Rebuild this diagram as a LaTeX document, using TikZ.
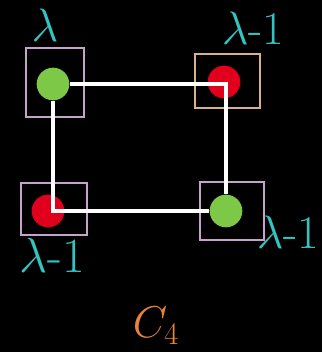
\documentclass[tikz,border=0pt]{standalone}
\usepackage{amsmath}
\usepackage{fix-cm}
\usepackage{xcolor}
\usetikzlibrary{positioning,backgrounds}

\definecolor{dotgreen}{HTML}{7DC846}
\definecolor{dotred}{HTML}{E0001E}
\definecolor{framelilac}{HTML}{C6A2CC}
\definecolor{frametan}{HTML}{D8B08A}
\definecolor{labcyan}{HTML}{33C4C2}
\definecolor{namorange}{HTML}{E8843A}

\begin{document}
\begin{tikzpicture}[
  x=0.03cm, y=-0.03cm,
  vbox/.style={draw=framelilac, line width=1.3pt, minimum width=#1},
  vtx/.style={circle, inner sep=0pt, minimum size=0.98cm},
  good/.style={vtx, fill=dotgreen},
  bad/.style={vtx, fill=dotred},
  link/.style={draw=white, line width=3.2pt},
  lab/.style={text=labcyan, font=\fontsize{40}{44}\selectfont, inner sep=0pt},
  gname/.style={text=namorange, font=\fontsize{38}{42}\selectfont, inner sep=0pt}
]
\useasboundingbox (0,0) rectangle (322,352);

% green vertices on top
\node[good] (gA) at (53,84) {};
\node[good] (gD) at (226,211) {};

\begin{scope}[on background layer]
\fill[black] (0,0) rectangle (322,352);
% boxes round the vertices
\node[vbox=1.74cm, minimum height=2.07cm] (fA) at (55,82.5) {};
\node[vbox=1.95cm, minimum height=1.62cm, draw=frametan] (fB) at (227.5,81) {};
\node[vbox=1.98cm, minimum height=1.56cm] (fC) at (54,209) {};
\node[vbox=1.92cm, minimum height=1.74cm] (fD) at (232,211) {};
% red vertices under the edges
\node[bad] (rB) at (224,82) {};
\node[bad] (rC) at (48,211) {};
% edges of C4
\draw[link] (gA) -| (gD);
\draw[link] (gA) |- (gD);
\end{scope}

% labels
\node[lab] (lA) at (45,25) {$\lambda$};
\node[lab] (lB) at (253,28) {$\lambda$-1};
\node[lab, font=\fontsize{42}{46}\selectfont] (lC) at (52,255) {$\lambda$-1};
\node[lab] (lD) at (288,232) {$\lambda$-1};

\node[gname] (cname) at (156,326) {$C_4$};
\end{tikzpicture}
\end{document}
